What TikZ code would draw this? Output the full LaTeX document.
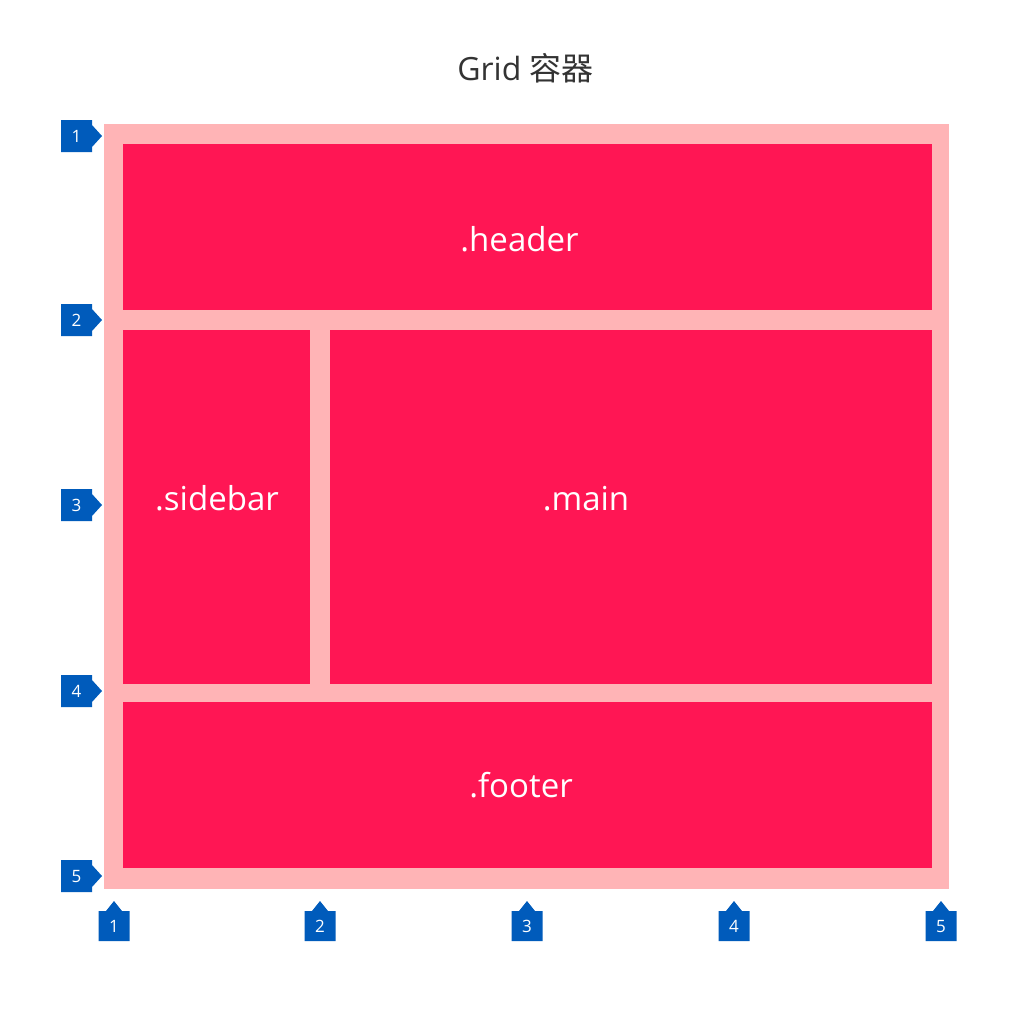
\documentclass[tikz,border=0pt]{standalone}
\usepackage{fontspec}
\setmainfont{Open Sans}
\newfontfamily\cjk{Noto Sans CJK SC}
\definecolor{contpink}{HTML}{FFB4B6}
\definecolor{itemred}{HTML}{FF1654}
\definecolor{markblue}{HTML}{005BBB}
\definecolor{titlegray}{HTML}{333333}
\tikzset{
  itembox/.style={fill=itemred, draw=none},
  itemlabel/.style={text=white, font=\fontsize{33}{38}\selectfont, anchor=base, inner sep=0pt},
  marker/.style={fill=markblue, draw=none},
  marklabel/.style={text=white, font=\fontsize{17}{20}\selectfont, inner sep=0pt},
}
\begin{document}
\begin{tikzpicture}[x=1pt,y=-1pt]
\useasboundingbox (0,0) rectangle (1024,1012);
\fill[white] (0,0) rectangle (1024,1012);
% title
\node[anchor=base, text=titlegray, font=\fontsize{32}{36}\selectfont, inner sep=0pt] (title) at (525.5,80) {Grid {\cjk 容器}};
% container
\fill[contpink] (104,124) rectangle (949,889);
% items
\fill[itembox] (123,144) rectangle (932,310);
\fill[itembox] (123,330) rectangle (310,684);
\fill[itembox] (330,330) rectangle (932,684);
\fill[itembox] (123,702) rectangle (932,868);
\node[itemlabel] (header) at (519.5,251) {.header};
\node[itemlabel] (sidebar) at (217,510) {.sidebar};
\node[itemlabel] (main) at (586,510) {.main};
\node[itemlabel] (footer) at (521,797) {.footer};
% row markers
\foreach \y/\n in {136/1,320/2,505/3,691/4,876/5}{
  \fill[marker] (61,\y-16) -- (92,\y-16) -- (92,\y-11) -- (102,\y) -- (92,\y+11) -- (92,\y+16) -- (61,\y+16) -- cycle;
  \node[marklabel] (row\n) at (76.5,\y) {\n};
}
% column markers
\foreach \x/\n in {114/1,320/2,527/3,734/4,941/5}{
  \fill[marker] (\x-15.5,941) -- (\x-15.5,911) -- (\x-8,911) -- (\x,901) -- (\x+8,911) -- (\x+15.5,911) -- (\x+15.5,941) -- cycle;
  \node[marklabel] (col\n) at (\x,926) {\n};
}
\end{tikzpicture}
\end{document}
